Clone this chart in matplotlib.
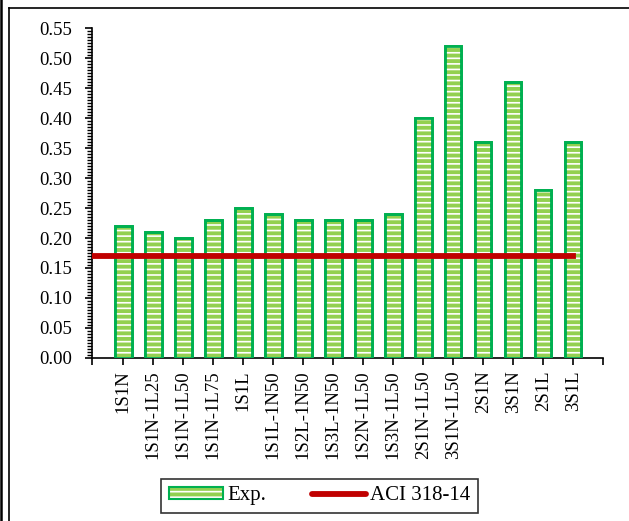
import numpy as np
import matplotlib.pyplot as plt
from matplotlib.lines import Line2D
from matplotlib.patches import Patch
from matplotlib.ticker import MultipleLocator

plt.rcParams['font.family'] = ['Liberation Serif', 'DejaVu Serif']
plt.rcParams['hatch.linewidth'] = 1.2

# specimens and measured ratio
specimens = ["1S1N", "1S1N-1L25", "1S1N-1L50", "1S1N-1L75", "1S1L",
             "1S1L-1N50", "1S2L-1N50", "1S3L-1N50", "1S2N-1L50", "1S3N-1L50",
             "2S1N-1L50", "3S1N-1L50", "2S1N", "3S1N", "2S1L", "3S1L"]
exp_values = [0.22, 0.21, 0.20, 0.23, 0.25, 0.24, 0.23, 0.23, 0.23, 0.24,
              0.40, 0.52, 0.36, 0.46, 0.28, 0.36]
aci_value = 0.17

green = "#92D050"
edge_green = "#00B050"
red = "#C00000"

fig = plt.figure(figsize=(6.29, 5.21), dpi=100)
ax = fig.add_axes([0.146, 0.313, 0.813, 0.633])

x = np.arange(len(specimens))
ax.bar(x, exp_values, width=0.55, color=green, edgecolor=edge_green,
       linewidth=2, zorder=2)
# white dash fill on top of the green
ax.bar(x, exp_values, width=0.55, color="none", edgecolor="white",
       linewidth=0, hatch="---", zorder=3)
ax.bar(x, exp_values, width=0.55, color="none", edgecolor=edge_green,
       linewidth=2, zorder=4)

x_left = -1.05
ax.plot([x_left, x[-1]], [aci_value, aci_value], color=red, lw=4.2,
        solid_capstyle="projecting", zorder=5)

ax.set_xlim(x_left, len(specimens))
ax.set_ylim(0, 0.55)
ax.yaxis.set_major_locator(MultipleLocator(0.05))
ax.yaxis.set_minor_locator(MultipleLocator(0.005))
ax.set_yticklabels([f"{v:.2f}" for v in ax.get_yticks()])
ax.set_xticks(list(x) + [x_left, len(specimens)])
ax.set_xticklabels(specimens + ["", ""], rotation=90)
ax.tick_params(axis="both", labelsize=13.5, direction="out", width=1.2, color="black")
ax.tick_params(axis="y", which="major", length=5, pad=9)
ax.tick_params(axis="y", which="minor", length=3.5, width=1)
ax.tick_params(axis="x", length=5, pad=4)
for side in ["top", "right"]:
    ax.spines[side].set_visible(False)
for side in ["left", "bottom"]:
    ax.spines[side].set_linewidth(1.2)

# legend handles (fill + white dashes + edge, like the bars)
h_exp = (Patch(facecolor=green, edgecolor="none"),
         Patch(facecolor="none", edgecolor="white", hatch="---", linewidth=0),
         Patch(facecolor="none", edgecolor=edge_green, linewidth=1.5))
h_aci = Line2D([0], [0], color=red, lw=4.2, solid_capstyle="round")
leg = fig.legend([h_exp, h_aci], ["Exp.", "ACI 318-14"], ncol=2,
                 loc="center", bbox_to_anchor=(0.508, 0.048),
                 fontsize=15, fancybox=False, edgecolor="black",
                 handlelength=2.6, handleheight=0.55, columnspacing=2.2,
                 handletextpad=0.2, borderpad=0.35)
leg.get_frame().set_linewidth(1.2)

# outer frame of the original chart area
fig.add_artist(Line2D([0.0145, 0.0145], [0, 0.985], color="black", lw=1.2))
fig.add_artist(Line2D([0.0145, 1.0], [0.985, 0.985], color="black", lw=1.2))
fig.add_artist(Line2D([0.002, 0.002], [0, 1], color="black", lw=1.8))

fig.savefig("out.png", dpi=100)
